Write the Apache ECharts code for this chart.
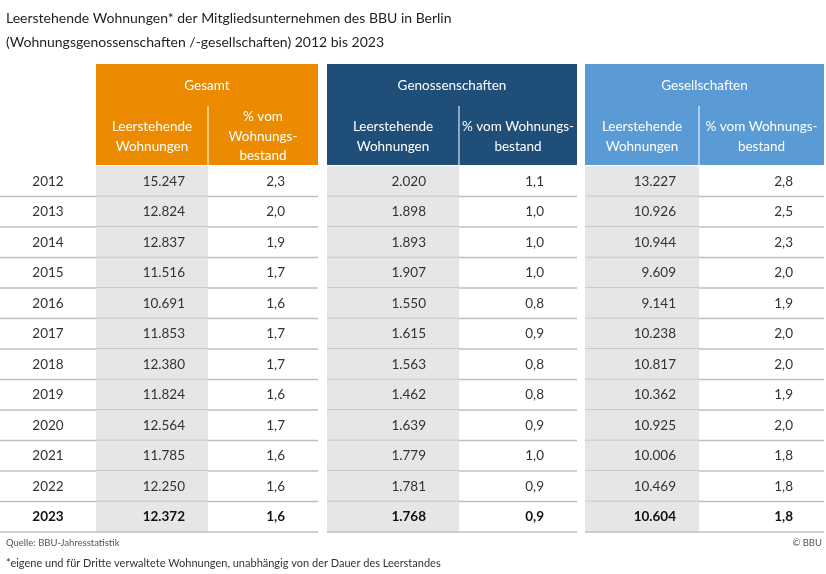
<!DOCTYPE html>
<html><head><meta charset="utf-8">
<script src="https://cdn.jsdelivr.net/npm/echarts@6/dist/echarts.min.js"></script>
<style>html,body{margin:0;padding:0;background:#fff}#c{width:826px;height:574px}</style>
</head><body><div id="c"></div>
<script>
// ---- data ----
const years = ['2012','2013','2014','2015','2016','2017','2018','2019','2020','2021','2022','2023'];
const gesamtWohnungen = ['15.247','12.824','12.837','11.516','10.691','11.853','12.380','11.824','12.564','11.785','12.250','12.372'];
const gesamtProzent = ['2,3','2,0','1,9','1,7','1,6','1,7','1,7','1,6','1,7','1,6','1,6','1,6'];
const genoWohnungen = ['2.020','1.898','1.893','1.907','1.550','1.615','1.563','1.462','1.639','1.779','1.781','1.768'];
const genoProzent = ['1,1','1,0','1,0','1,0','0,8','0,9','0,8','0,8','0,9','1,0','0,9','0,9'];
const gesWohnungen = ['13.227','10.926','10.944','9.609','9.141','10.238','10.817','10.362','10.925','10.006','10.469','10.604'];
const gesProzent = ['2,8','2,5','2,3','2,0','1,9','2,0','2,0','1,9','2,0','1,8','1,8','1,8'];
const groupNames = ['Gesamt','Genossenschaften','Gesellschaften'];
const subHeadCount = 'Leerstehende\nWohnungen';
const subHeadPctA = '% vom\nWohnungs-\nbestand';
const subHeadPctB = '% vom Wohnungs-\nbestand';
const titleLine1 = 'Leerstehende Wohnungen* der Mitgliedsunternehmen des BBU in Berlin';
const titleLine2 = '(Wohnungsgenossenschaften /-gesellschaften) 2012 bis 2023';
const sourceText = 'Quelle: BBU-Jahresstatistik';
const copyText = '© BBU';
const noteText = '*eigene und für Dritte verwaltete Wohnungen, unabhängig von der Dauer des Leerstandes';

// ---- layout (pixels in table coordinate space) ----
const FONT = 'Lato';
const blocks = [
  {x0:96, x1:318, mid:208, color:'#ED8B00', lineX0:0},
  {x0:327, x1:577, mid:459, color:'#1F4E79', lineX0:327},
  {x0:585, x1:824, mid:699, color:'#5B9BD5', lineX0:585}
];
const textRight = [[185,285],[426,544],[676,793]];
const yearCenter = 48;
const valueCols = [[gesamtWohnungen,gesamtProzent],[genoWohnungen,genoProzent],[gesWohnungen,gesProzent]];

const chart = echarts.init(document.getElementById('c'), null, {renderer:'canvas'});

const graphics = [];
const HT = 64, HM = 106, HB = 165;
graphics.push({type:'text', x:6, y:18, style:{text:titleLine1, fill:'#1f1f1f', font:'14px '+FONT, verticalAlign:'middle'}, silent:true});
graphics.push({type:'text', x:6, y:42, style:{text:titleLine2, fill:'#1f1f1f', font:'14px '+FONT, verticalAlign:'middle'}, silent:true});
blocks.forEach((b, i) => {
  graphics.push({type:'rect', shape:{x:b.x0, y:HT, width:b.x1-b.x0, height:HB-HT}, style:{fill:b.color}, silent:true});
  graphics.push({type:'line', shape:{x1:b.mid, y1:HM, x2:b.mid, y2:HB}, style:{stroke:'rgba(255,255,255,0.85)', lineWidth:1.2}, silent:true});
  graphics.push({type:'text', x:(b.x0+b.x1)/2, y:86, style:{text:groupNames[i], fill:'#fff', font:'13.5px '+FONT, align:'center', verticalAlign:'middle'}, silent:true});
  graphics.push({type:'text', x:(b.x0+b.mid)/2, y:136.5, style:{text:subHeadCount, fill:'#fff', font:'13.5px '+FONT, align:'center', verticalAlign:'middle', lineHeight:19.5}, silent:true});
  graphics.push({type:'text', x:(b.mid+b.x1)/2, y:136.5, style:{text:i===0?subHeadPctA:subHeadPctB, fill:'#fff', font:'13.5px '+FONT, align:'center', verticalAlign:'middle', lineHeight:19.5}, silent:true});
});
graphics.push({type:'text', x:6, y:543, style:{text:sourceText, fill:'#555', font:'9.5px '+FONT, verticalAlign:'middle'}, silent:true});
graphics.push({type:'text', x:822, y:543, style:{text:copyText, fill:'#555', font:'9.5px '+FONT, align:'right', verticalAlign:'middle'}, silent:true});
graphics.push({type:'text', x:6, y:563, style:{text:noteText, fill:'#333', font:'11px '+FONT, verticalAlign:'middle'}, silent:true});

function renderRow(params, api) {
  const idx = api.value(0);
  const c = api.coord([0, idx]);
  const band = api.size([0, 1])[1];
  const top = c[1] - band / 2;
  const bottom = top + band;
  const cy = c[1];
  const X = v => api.coord([v, idx])[0];
  const last = idx === years.length - 1;
  const font = (last ? 'bold ' : '') + '13.5px ' + FONT;
  const fill = last ? '#111' : '#333';
  const children = [];
  blocks.forEach((b) => {
    children.push({type:'rect', shape:{x:X(b.x0), y:top, width:X(b.mid)-X(b.x0), height:band}, style:{fill:'#E7E6E6'}});
  });
  blocks.forEach((b) => {
    children.push({type:'line', shape:{x1:X(b.lineX0), y1:bottom, x2:X(b.x1), y2:bottom}, style:{stroke:'#BFBFBF', lineWidth:1.5}});
  });
  children.push({type:'text', x:X(yearCenter), y:cy, style:{text:years[idx], font:font, fill:fill, align:'center', verticalAlign:'middle'}});
  valueCols.forEach((pair, bi) => {
    pair.forEach((arr, k) => {
      children.push({type:'text', x:X(textRight[bi][k]), y:cy, style:{text:arr[idx], font:font, fill:fill, align:'right', verticalAlign:'middle'}});
    });
  });
  return {type:'group', children};
}

chart.setOption({
  animation:false,
  backgroundColor:'#fff',
  grid:{left:0, top:166, width:824, height:366},
  xAxis:{type:'value', min:0, max:824, show:false},
  yAxis:{type:'category', data:years, inverse:true, show:false},
  graphic:graphics,
  series:[{type:'custom', renderItem:renderRow, data:years.map((y,i)=>[i]), encode:{y:0}, silent:true, clip:false}]
});
</script></body></html>
